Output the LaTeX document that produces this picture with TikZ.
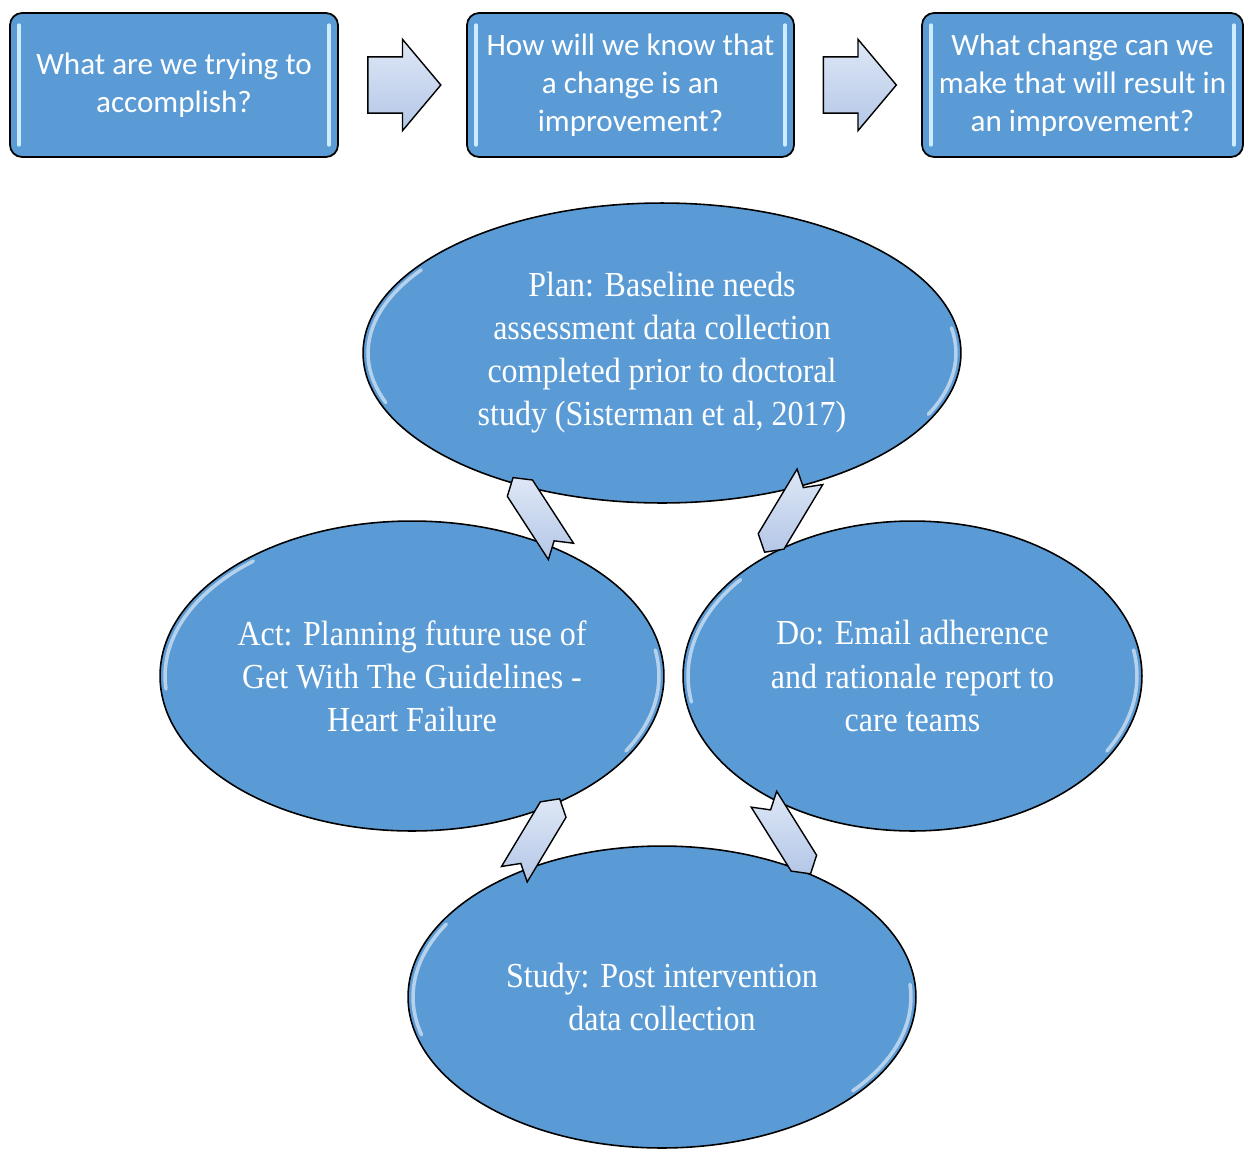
\documentclass[tikz,border=0pt]{standalone}
\usepackage{fontspec}
\setmainfont{Liberation Serif}
\newfontfamily\boxfont{Carlito}
\newfontfamily\cyclefont[FakeStretch=0.91]{Liberation Serif}
\usetikzlibrary{shapes.geometric, shapes.arrows, shapes.symbols, calc}
\definecolor{cellblue}{RGB}{91,155,213}
\definecolor{arrowlight}{RGB}{222,231,246}
\definecolor{arrowdark}{RGB}{180,199,231}
\definecolor{glintblue}{RGB}{205,236,255}

\begin{document}
\begin{tikzpicture}[x=0.02cm, y=-0.02cm,
    question/.style={draw=black, line width=1pt, rounded corners=0.24cm, fill=cellblue,
      text=white, font=\boxfont\fontsize{17.7}{21.6}\selectfont, align=center,
      minimum height=2.88cm, inner sep=0pt},
    stage/.style={ellipse, draw=black, line width=0.9pt, fill=cellblue, text=white,
      font=\cyclefont\fontsize{20}{24.5}\selectfont, align=center, inner sep=0pt},
    nextarrow/.style={single arrow, draw=black, line width=0.8pt, top color=arrowlight,
      bottom color=arrowdark, minimum height=1.46cm, inner xsep=0pt, inner ysep=0.55cm,
      single arrow head extend=0.35cm, single arrow tip angle=100, xshift=-0.2cm},
    cyclearrow/.style={signal, signal to=east, signal from=west, draw=black, line width=0.8pt,
      top color=arrowlight, bottom color=arrowdark, minimum width=1.76cm, minimum height=0.6cm,
      signal pointer angle=100, inner sep=0pt},
    glint/.style={glintblue, line width=2pt, line cap=round},
    rim/.style={white, opacity=0.55, line width=2pt, line cap=round}]
  \useasboundingbox (0,0) rectangle (1244,1150);

  % Top row: the three questions
  \node[question, minimum width=6.56cm] (q1) at (174,85) {What are we trying to\\accomplish?};
  \node[question, minimum width=6.54cm] (q2) at (630.5,85) {How will we know that\\a change is an\\improvement?};
  \node[question, minimum width=6.42cm] (q3) at (1082.5,85) {What change can we\\make that will result in\\an improvement?};
  \draw[glint] ([xshift=0.2cm,yshift=-0.26cm]q1.north west) -- ([xshift=0.2cm,yshift=0.26cm]q1.south west);
  \draw[glint] ([xshift=-0.2cm,yshift=-0.26cm]q1.north east) -- ([xshift=-0.2cm,yshift=0.26cm]q1.south east);
  \draw[glint] ([xshift=0.2cm,yshift=-0.26cm]q2.north west) -- ([xshift=0.2cm,yshift=0.26cm]q2.south west);
  \draw[glint] ([xshift=-0.2cm,yshift=-0.26cm]q2.north east) -- ([xshift=-0.2cm,yshift=0.26cm]q2.south east);
  \draw[glint] ([xshift=0.2cm,yshift=-0.26cm]q3.north west) -- ([xshift=0.2cm,yshift=0.26cm]q3.south west);
  \draw[glint] ([xshift=-0.2cm,yshift=-0.26cm]q3.north east) -- ([xshift=-0.2cm,yshift=0.26cm]q3.south east);
  \node[nextarrow] (n1) at ($(q1.east)!0.5!(q2.west)$) {};
  \node[nextarrow] (n2) at ($(q2.east)!0.5!(q3.west)$) {};

  % PDSA cycle
  \node[stage, minimum width=11.96cm, minimum height=6cm] (plan) at (662,353)
    {Plan: Baseline needs\\assessment data collection\\completed prior to doctoral\\study (Sisterman et al, 2017)};
  \node[stage, minimum width=10.08cm, minimum height=6.2cm] (act) at (412,676)
    {Act: Planning future use of\\Get With The Guidelines -\\Heart Failure};
  \node[stage, minimum width=9.18cm, minimum height=6.2cm] (do) at (912.5,676)
    {Do: Email adherence\\and rationale report to\\care teams};
  \node[stage, minimum width=10.16cm, minimum height=6.04cm] (study) at (662,997)
    {Study: Post intervention\\data collection};
  \draw[rim] (plan.center) ++(145:5.88cm and 2.9cm) arc[start angle=145, end angle=200, x radius=5.88cm, y radius=2.9cm];
  \draw[rim] (plan.center) ++(-25:5.88cm and 2.9cm) arc[start angle=-25, end angle=10, x radius=5.88cm, y radius=2.9cm];
  \draw[rim] (act.center) ++(130:4.94cm and 3cm) arc[start angle=130, end angle=185, x radius=4.94cm, y radius=3cm];
  \draw[rim] (act.center) ++(-30:4.94cm and 3cm) arc[start angle=-30, end angle=10, x radius=4.94cm, y radius=3cm];
  \draw[rim] (do.center) ++(140:4.49cm and 3cm) arc[start angle=140, end angle=190, x radius=4.49cm, y radius=3cm];
  \draw[rim] (do.center) ++(-30:4.49cm and 3cm) arc[start angle=-30, end angle=10, x radius=4.49cm, y radius=3cm];
  \draw[rim] (study.center) ++(150:4.98cm and 2.92cm) arc[start angle=150, end angle=195, x radius=4.98cm, y radius=2.92cm];
  \draw[rim] (study.center) ++(-40:4.98cm and 2.92cm) arc[start angle=-40, end angle=5, x radius=4.98cm, y radius=2.92cm];

  % arrows round the cycle
  \node[cyclearrow, rotate=-121] (plando) at ($(plan.center)!0.5!(do.center)$) {};
  \node[cyclearrow, rotate=-58] (dostudy) at ($(do.center)!0.5!(study.center)$) {};
  \node[cyclearrow, rotate=59] (studyact) at ($(study.center)!0.5!(act.center)$) {};
  \node[cyclearrow, rotate=123] (actplan) at ($(act.center)!0.5!(plan.center)$) {};
\end{tikzpicture}
\end{document}
